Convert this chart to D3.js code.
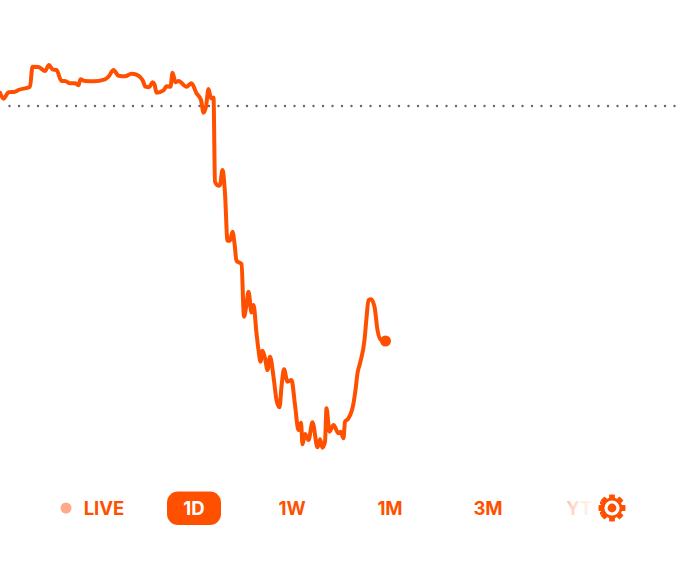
<!DOCTYPE html>
<html>
<head>
<meta charset="utf-8">
<script src="https://cdn.jsdelivr.net/npm/d3@7"></script>
<style>
  html, body { margin: 0; padding: 0; background: #fff; }
  svg { display: block; }
  text { font-family: Inter, sans-serif; font-weight: 700; font-size: 18.5px; }
</style>
</head>
<body>
<div id="chart"></div>
<script>
const width = 680;
const height = 564;
const orange = "#ff5000";

// minutes into the session
const minutes = [0,7,17,30,37,60,65,77,90,98,105,113,123,130,140,150,157,161,170,187,
  210,217,227,237,250,263,273,285,291,298,305,309,313,327,333,341,345,351,357,373,
  383,393,402,407,412,417,422,427,430,437,440,445,450,455,460,465,469,473,483,488,
  492,497,503,507,513,517,521,525,530,535,540,547,553,559,563,568,575,583,590,597,
  602,605,610,617,625,635,640,645,650,653,659,667,677,681,687,690,697,707,711,715,
  720,729,733,737,742,749,755,762,771];

// percent change against previous close
const change = [0.133,0.073,0.137,0.143,0.16,0.193,0.393,0.39,0.35,0.41,0.367,0.36,0.25,0.25,0.227,0.227,0.207,0.267,0.25,0.247,
  0.267,0.293,0.36,0.303,0.297,0.323,0.313,0.26,0.193,0.187,0.237,0.217,0.133,0.157,0.197,0.193,0.333,0.237,0.25,0.193,
  0.227,0.127,0.06,-0.067,-0.007,0.17,0.077,0.085,-0.757,-0.797,-0.79,-0.64,-0.873,-1.347,-1.347,-1.257,-1.373,-1.547,-1.58,-2.107,
  -2.02,-1.857,-2.065,-1.99,-2.273,-2.44,-2.557,-2.447,-2.523,-2.64,-2.507,-2.707,-2.94,-3.013,-2.807,-2.633,-2.757,-2.74,-2.99,-3.24,
  -3.167,-3.383,-3.28,-3.34,-3.163,-3.413,-3.333,-3.417,-3.357,-3.023,-3.257,-3.19,-3.273,-3.257,-3.323,-3.157,-3.123,-2.973,-2.84,-2.673,
  -2.573,-2.34,-2.12,-1.94,-1.933,-2.007,-2.24,-2.34,-2.35];

const ranges = ["LIVE", "1D", "1W", "1M", "3M", "YTD"];
const activeRange = "1D";

const x = d3.scaleLinear().domain([0, 1360]).range([0, width]);
const y = d3.scaleLinear().domain([-4, 1]).range([506, 6]);
const rangeX = d3.scalePoint().domain(ranges).range([96, 586]);

const svg = d3.select("#chart").append("svg")
  .attr("width", width)
  .attr("height", height);

const defs = svg.append("defs");
const fade = defs.append("linearGradient").attr("id", "fade");
fade.append("stop").attr("offset", "0%").attr("stop-color", "#fff").attr("stop-opacity", 0.55);
fade.append("stop").attr("offset", "45%").attr("stop-color", "#fff").attr("stop-opacity", 0.85);
fade.append("stop").attr("offset", "100%").attr("stop-color", "#fff").attr("stop-opacity", 1);

// dotted previous close
svg.append("g").selectAll("circle")
  .data(d3.range(9.5, width, 9.5))
  .enter().append("circle")
  .attr("cx", d => d)
  .attr("cy", y(0))
  .attr("r", 1.2)
  .attr("fill", "#666");

const points = minutes.map((m, i) => [m, change[i]]);

const line = d3.line()
  .x(d => x(d[0]))
  .y(d => y(d[1]))
  .curve(d3.curveMonotoneX);

svg.append("path")
  .attr("d", line(points))
  .attr("fill", "none")
  .attr("stroke", orange)
  .attr("stroke-width", 4)
  .attr("stroke-linejoin", "round")
  .attr("stroke-linecap", "round");

const last = points[points.length - 1];
svg.append("circle")
  .attr("cx", x(last[0]))
  .attr("cy", y(last[1]))
  .attr("r", 5.5)
  .attr("fill", orange);

// range selector
const tabs = svg.append("g");
const tabY = 508;

tabs.append("rect")
  .attr("x", rangeX(activeRange) - 27)
  .attr("y", tabY - 16.5)
  .attr("width", 54)
  .attr("height", 33.5)
  .attr("rx", 11)
  .attr("fill", orange);

tabs.selectAll("text")
  .data(ranges)
  .enter().append("text")
  .attr("x", d => rangeX(d) + (d === "LIVE" ? 8 : 0))
  .attr("y", tabY)
  .attr("dy", "0.36em")
  .attr("text-anchor", "middle")
  .attr("fill", d => d === activeRange ? "#fff" : orange)
  .text(d => d);

tabs.append("circle")
  .attr("cx", rangeX("LIVE") - 30)
  .attr("cy", tabY)
  .attr("r", 5.5)
  .attr("fill", "#ffa98a");

// white fade that hides the end of the scrolled tabs
tabs.append("rect")
  .attr("x", 560)
  .attr("y", tabY - 20)
  .attr("width", 40)
  .attr("height", 40)
  .attr("fill", "url(#fade)");

// gear
const gear = svg.append("g").attr("transform", `translate(612,${tabY})`);
gear.selectAll("rect")
  .data(d3.range(8))
  .enter().append("rect")
  .attr("x", -2.9)
  .attr("y", -13.5)
  .attr("width", 5.8)
  .attr("height", 6)
  .attr("rx", 0.8)
  .attr("fill", orange)
  .attr("transform", d => `rotate(${d * 45})`);
gear.append("circle").attr("r", 10.4).attr("fill", orange);
gear.append("circle").attr("r", 7.6).attr("fill", "#fff");
gear.append("circle").attr("r", 4.4).attr("fill", orange);
</script>
</body>
</html>
